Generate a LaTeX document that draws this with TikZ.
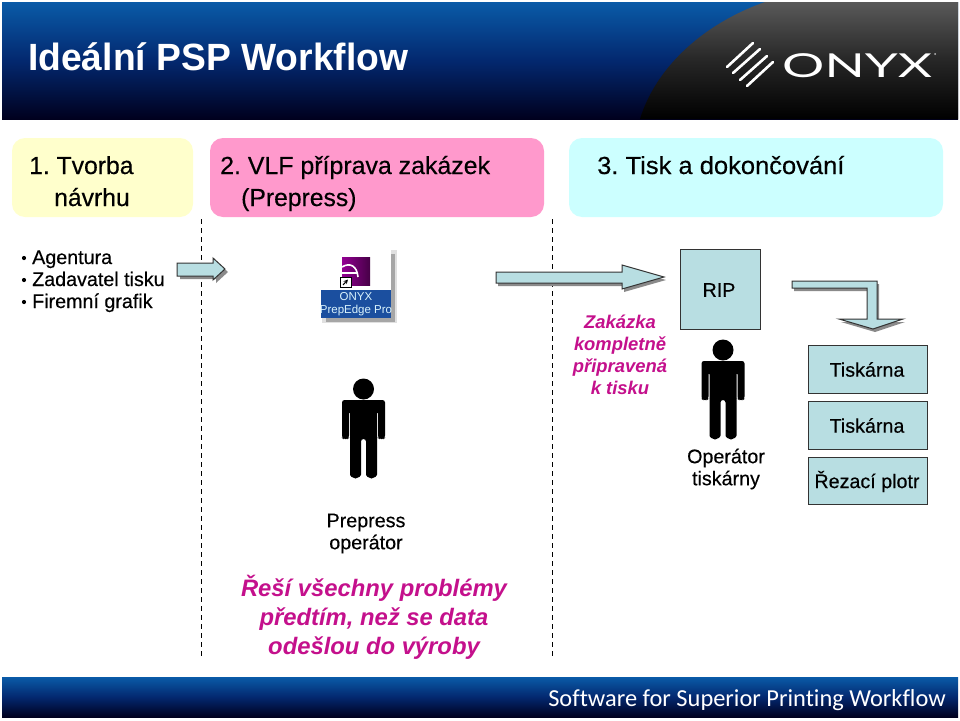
\documentclass[tikz,border=0pt]{standalone}
\usepackage{graphicx}
\usepackage{fontspec}
\setmainfont{Liberation Sans}
\newfontfamily\semi[FakeBold=0.35]{Liberation Sans}
\newfontfamily\footfont[Ligatures=NoCommon]{Carlito}
\newfontfamily\logofont{Lato}
\definecolor{teal1}{HTML}{B8DEE2}
\definecolor{mag}{HTML}{C4108C}
\definecolor{shad}{HTML}{8A8A8A}
\definecolor{bluetop}{HTML}{0A5BA8}
\definecolor{bluemid}{HTML}{03286F}
\definecolor{blueend}{HTML}{00001E}
\definecolor{phaseyellow}{HTML}{FFFFCC}
\definecolor{phasepink}{HTML}{FF99CC}
\definecolor{phasecyan}{HTML}{CCFFFF}
\definecolor{iconblue}{HTML}{1B4F9F}
\tikzset{
  txt/.style={font=\semi\fontsize{19.7}{22}\selectfont,text=black,inner sep=0pt,align=center},
  phase/.style={font=\semi\fontsize{24.7}{30}\selectfont,text=black,inner sep=0pt,align=left,anchor=base west},
  note/.style={font=\bfseries\itshape\fontsize{18.4}{22}\selectfont,text=mag,inner sep=0pt,align=center},
  bignote/.style={font=\bfseries\itshape\fontsize{23.8}{29}\selectfont,text=mag,inner sep=0pt,align=center},
  bull/.style={font=\semi\fontsize{19.7}{22}\selectfont,text=black,inner sep=0pt,anchor=base west},
  tealbox/.style={draw=black!80,line width=1pt,fill=teal1},
  blockarrow/.style={draw=black!80,line width=1pt,fill=teal1,line join=miter},
  blockshadow/.style={fill=shad,draw=none},
  divider/.style={draw=black,line width=1pt,dash pattern=on 5pt off 4pt},
  phasebox/.style={draw=none,rounded corners=13pt},
  logostroke/.style={white,line width=2.6pt,line cap=round},
}
\newcommand{\personfig}[2]{%
  \begin{scope}[shift={(#1,#2)}]
    \fill[black] (0,-39) circle (10.5);
    \fill[black,rounded corners=2.5pt] (-21.5,-28) -- (21.5,-28) -- (21.5,10) -- (20,11) -- (16,11) -- (14.5,10) -- (14.5,-17) -- (13.5,-17) -- (13.5,44) arc[start angle=0,end angle=-180,x radius=5.5,y radius=-6.5] -- (2.5,11) -- (-2.5,11) -- (-2.5,44) arc[start angle=0,end angle=-180,x radius=5.5,y radius=-6.5] -- (-13.5,-17) -- (-14.5,-17) -- (-14.5,10) -- (-16,11) -- (-20,11) -- (-21.5,10) -- cycle;
  \end{scope}}
\begin{document}
\frenchspacing
\begin{tikzpicture}[x=1pt,y=-1pt]
\useasboundingbox (0,0) rectangle (960,720);
\fill[white] (0,0) rectangle (960,720);
% header
\shade[top color=bluetop,bottom color=blueend,middle color=bluemid] (2,2) rectangle (958,119);
\shade[top color=black!65,bottom color=black,middle color=black!85] (765,2) .. controls (700,25) and (655,70) .. (640,119) -- (958,119) -- (958,2) -- cycle;
\node[anchor=base west,inner sep=0pt,text=white,font=\bfseries\fontsize{36.5}{40}\selectfont] (title) at (28,70) {\scalebox{1.02}[1.04]{Ideální PSP Workflow}};
% logo
\draw[logostroke] (727,67) -- (753,43);
\draw[logostroke] (733,73) -- (760,49);
\draw[logostroke] (740,80) -- (767,56);
\draw[logostroke] (747,86) -- (773,62);
\node[anchor=base west,inner sep=0pt,text=white,font=\logofont\fontsize{33}{36}\selectfont] (onyx) at (782,77) {\scalebox{1.6}[1]{ONYX}};
\fill[white!75!black] (935,54) circle (1);
% footer
\shade[top color=bluetop,bottom color=blueend,middle color=bluemid] (2,677) rectangle (958,717);
\node[anchor=base east,inner sep=0pt,text=white,font=\footfont\fontsize{24.4}{28}\selectfont] (foot) at (946,706) {Software for Superior Printing Workflow};
% phases
\fill[phasebox,fill=phaseyellow] (12,138) rectangle (193,217);
\fill[phasebox,fill=phasepink] (210,138) rectangle (544,217);
\fill[phasebox,fill=phasecyan] (569,138) rectangle (943,217);
\node[phase] (p1) at (29,174) {1. Tvorba};
\node[phase] (p1b) at (54,206) {návrhu};
\node[phase] (p2) at (220,174) {\scalebox{1.008}[1]{2. VLF příprava zakázek}};
\node[phase] (p2b) at (241,206) {(Prepress)};
\node[phase] (p3) at (597,174) {\scalebox{1.033}[1]{3. Tisk a dokončování}};
% dividers
\coordinate (d1a) at (201,219); \coordinate (d1b) at (201,656);
\coordinate (d2a) at (552,219); \coordinate (d2b) at (552,656);
\draw[divider] (d1a) -- (d1b);
\draw[divider] (d2a) -- (d2b);
% bullets
\foreach \yy/\t in {264/Agentura,286/Zadavatel tisku,308/Firemní grafik}{
  \fill[black] (24,{\yy-6}) circle (2.1);
  \node[bull] at (32,\yy) {\t};
}
% small arrow
\fill[blockshadow] (180,266) -- (216,266) -- (216,261) -- (228,272) -- (216,283) -- (216,279) -- (180,279) -- cycle;
\draw[blockarrow] (177,263) -- (213,263) -- (213,258) -- (225,269) -- (213,280) -- (213,276) -- (177,276) -- cycle;
% icon
\fill[black!12] (322,250) rectangle (397,323);
\fill[black!35] (326,318) rectangle (395,322);
\fill[black!35] (391,254) rectangle (395,322);
\fill[white] (321,247) rectangle (391,290);
\shade[left color=violet!85!magenta,right color=violet!55!black] (342,257) rectangle (370,285);
\draw[white,line width=1.6pt] (342,267) .. controls (350,262) and (357,266) .. (358,277);
\draw[white,line width=1.2pt] (342,273) -- (357,273);
\fill[white] (340,277) rectangle (351,287);
\draw[black,line width=0.6pt] (340,277) rectangle (351,287);
\draw[black,line width=1pt,-stealth] (343,285) -- (348,279.5);
\fill[iconblue] (321,290) rectangle (391,318);
\node[inner sep=0pt,text=white!85!cyan,font=\fontsize{11.5}{13}\selectfont,align=center] (icon) at (356,304.5) {ONYX\\PrepEdge Pro};
% long arrow
\fill[blockshadow] (498,275) -- (624,275) -- (624,268) -- (666,280) -- (624,292) -- (624,286) -- (498,286) -- cycle;
\draw[blockarrow] (496,272) -- (622,272) -- (622,265) -- (664,277) -- (622,289) -- (622,283) -- (496,283) -- cycle;
% rip
\node[tealbox,minimum width=80pt,minimum height=80pt,inner sep=0pt,anchor=north west] (rip) at (680,249) {};
\node[txt] at (719,290) {RIP};
% bent arrow
\fill[blockshadow] (794,284) -- (879,284) -- (879,322) -- (905,322) -- (875,332) -- (841,322) -- (869,322) -- (869,291) -- (794,291) -- cycle;
\draw[blockarrow] (792,281) -- (877,281) -- (877,319) -- (903,319) -- (873,329) -- (839,319) -- (867,319) -- (867,288) -- (792,288) -- cycle;
% boxes
\node[tealbox,minimum width=119pt,minimum height=48pt,inner sep=0pt,anchor=north west] (t1) at (808,345) {};
\node[tealbox,minimum width=119pt,minimum height=48pt,inner sep=0pt,anchor=north west] (t2) at (808,401) {};
\node[tealbox,minimum width=119pt,minimum height=47pt,inner sep=0pt,anchor=north west] (t3) at (808,457) {};
\node[txt] at (867,369.5) {Tiskárna};
\node[txt] at (867,425.5) {Tiskárna};
\node[txt] at (867,481.5) {Řezací plotr};
% persons
\personfig{363.5}{428}
\personfig{723}{389}
% texts
\node[note] (zak) at (620,355) {Zakázka\\kompletně\\připravená\\k tisku};
\node[txt] (op2) at (726,469) {Operátor\\tiskárny};
\node[txt] (op1) at (366,533.5) {Prepress\\operátor};
\node[bignote] (res) at (374,617) {Řeší všechny problémy\\předtím, než se data\\odešlou do výroby};
\end{tikzpicture}
\end{document}
